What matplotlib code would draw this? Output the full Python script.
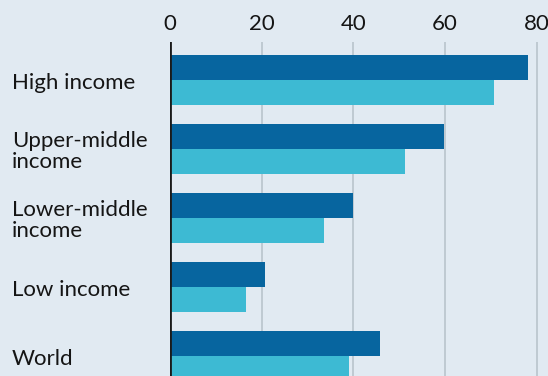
import matplotlib
matplotlib.use("Agg")
import matplotlib.pyplot as plt
import matplotlib.transforms as mtransforms
import numpy as np

# data
categories = ["High income", "Upper-middle\nincome", "Lower-middle\nincome", "Low income", "World"]
series_dark = [78.2, 59.8, 39.9, 20.7, 45.8]
series_light = [70.7, 51.3, 33.6, 16.5, 39.1]
xticks = [0, 20, 40, 60, 80]

bg = "#e1eaf2"
dark = "#07659f"
light = "#3dbad3"
grid = "#b9c4cc"

plt.rcParams['font.family'] = ['Lato', 'DejaVu Sans']

fig = plt.figure(figsize=(5.48, 3.76), dpi=100)
fig.patch.set_facecolor(bg)
# axes runs a bit past the bottom edge, like the cropped original
ax = fig.add_axes([170 / 548, 1 - 394 / 376, 1 - 170 / 548, 352 / 376])
ax.set_facecolor(bg)

y = np.arange(len(categories))
h = 0.36
ax.barh(y - h / 2, series_dark, height=h, color=dark, zorder=3)
ax.barh(y + h / 2, series_light, height=h, color=light, zorder=3)

ax.set_ylim(len(categories) - 0.45, -0.55)
ax.set_xlim(0, 82.5)
ax.set_xticks(xticks)
ax.xaxis.tick_top()
ax.tick_params(axis='x', length=0, pad=6, labelsize=16, labelcolor="#151515")
ax.set_yticks([])
ax.grid(axis='x', color=grid, linewidth=1.2, zorder=1)
for s in ax.spines.values():
    s.set_visible(False)
ax.axvline(0, color="#1a1a1a", linewidth=2, zorder=4)

trans = mtransforms.blended_transform_factory(fig.transFigure, ax.transData)
for i, lab in enumerate(categories):
    ax.text(12 / 548, i + 0.04, lab, transform=trans, ha='left', va='center',
            fontsize=16, color="#151515", linespacing=1.05)

fig.savefig("out.png", dpi=100, facecolor=bg)
